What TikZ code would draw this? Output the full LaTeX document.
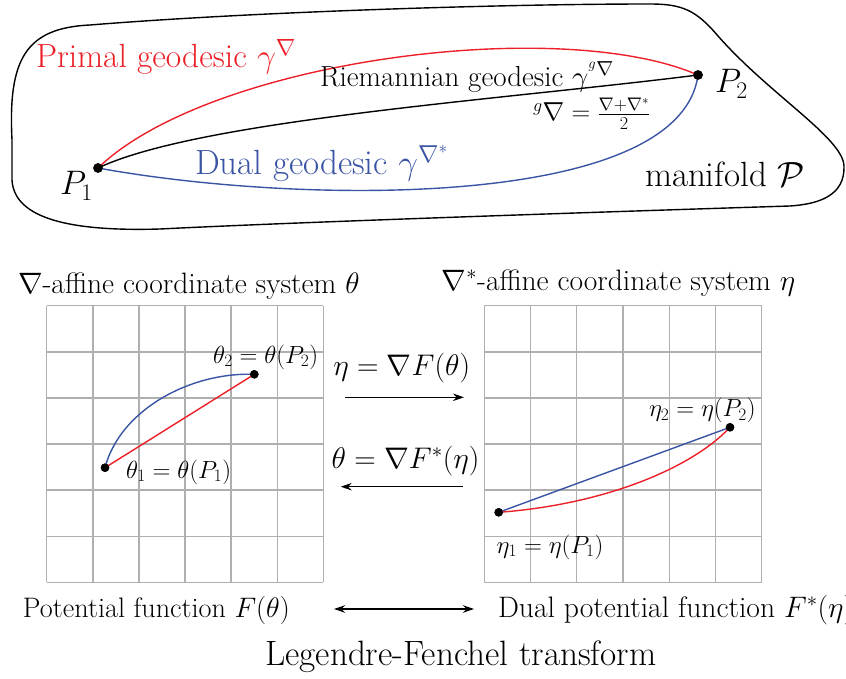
\RequirePackage{fix-cm}
\documentclass[tikz,border=0pt]{standalone}
\usepackage{fontspec}
\usepackage{graphicx}
\usetikzlibrary{arrows.meta}
\definecolor{myred}{RGB}{236,32,40}
\definecolor{myblue}{RGB}{58,84,164}
\definecolor{gridgray}{RGB}{175,175,175}
\newcommand{\fsz}[1]{\fontsize{#1}{#1}\selectfont}
\tikzset{
  lbl/.style={anchor=base west, inner sep=0pt, outer sep=0pt},
  curve/.style={line width=1.4pt},
  gridline/.style={gridgray, line width=1.4pt},
  arr/.style={line width=1.4pt, -{Stealth[length=11pt,width=7.5pt]}},
  darr/.style={line width=1.4pt, {Stealth[length=11pt,width=7.5pt]}-{Stealth[length=11pt,width=7.5pt]}},
  bigdot/.style={circle, fill=black, inner sep=0pt, minimum size=9.5pt},
  smalldot/.style={circle, fill=black, inner sep=0pt, minimum size=8.5pt}
}
\begin{document}
\begin{tikzpicture}[x=1pt,y=-1pt]
\useasboundingbox (0,0) rectangle (846,679);
% manifold outline
\draw[line width=1.4pt] (12,140) .. controls (8,60) and (25,28) .. (90,25)
  .. controls (250,12) and (500,4) .. (650,4)
  .. controls (682,4) and (696,10) .. (718,36)
  .. controls (770,95) and (843,138) .. (844,166)
  .. controls (845,195) and (820,204) .. (790,206)
  .. controls (600,212) and (300,222) .. (160,229)
  .. controls (60,232) and (14,215) .. (12,180) -- cycle;
% points
\node[bigdot] (p1) at (98,168) {};
\node[bigdot] (p2) at (698,75) {};
\draw[curve, myred] (p1.center) .. controls (210,60) and (560,15) .. (p2.center);
\draw[curve, black] (p1.center) .. controls (200,120) and (500,100) .. (p2.center);
\draw[curve, myblue] (p1.center) .. controls (300,205) and (680,210) .. (p2.center);
\node[bigdot] at (p1) {};
\node[bigdot] at (p2) {};
% labels top
\node[lbl, myred] (lprimal) at (36,68) {\fsz{33.5}Primal geodesic $\gamma^{\nabla}$};
\node[lbl] (lriem) at (320,86.5) {\fsz{29}Riemannian geodesic $\gamma^{{}^{g}\nabla}$};
\node[lbl] (lform) at (533,121) {\fsz{26}${}^{g}\nabla=\frac{\nabla+\nabla^*}{2}$};
\node[lbl, myblue] (ldual) at (195,175) {\fsz{35}Dual geodesic $\gamma^{\nabla^*}$};
\node[lbl] (lp1) at (60,195) {\fsz{34}$P_1$};
\node[lbl] (lp2) at (715,93) {\fsz{34}$P_2$};
\node[lbl] (lman) at (645,187) {\fsz{35}manifold $\mathcal{P}$};
% coordinate titles
\node[lbl] (tleft) at (18,293) {\fsz{29.5}$\nabla$-affine coordinate system $\theta$};
\node[lbl] (tright) at (441.7,290) {\fsz{29.5}$\nabla^*$-affine coordinate system $\eta$};
% grids
\foreach \i in {0,...,6} {
  \draw[gridline] ({46.7+\i*46.1},305.7) -- ({46.7+\i*46.1},582.3);
  \draw[gridline] (46.7,{305.7+\i*46.1}) -- (323.3,{305.7+\i*46.1});
  \draw[gridline] ({484.3+\i*46.23},305.7) -- ({484.3+\i*46.23},582.3);
  \draw[gridline] (484.3,{305.7+\i*46.1}) -- (761.7,{305.7+\i*46.1});
}
% left grid points
\node[smalldot] (t1) at (105,467.7) {};
\node[smalldot] (t2) at (254.3,374.3) {};
\draw[curve, myred] (t1.center) -- (t2.center);
\draw[curve, myblue] (t1.center) .. controls (120,410) and (190,372) .. (t2.center);
\node[smalldot] at (t1) {};
\node[smalldot] at (t2) {};
\node[lbl] (lt2) at (213,363) {\fsz{24.8}$\theta_2=\theta(P_2)$};
\node[lbl] (lt1) at (126,478) {\fsz{24.8}$\theta_1=\theta(P_1)$};
% right grid points
\node[smalldot] (e1) at (498.7,512.3) {};
\node[smalldot] (e2) at (730,427.3) {};
\draw[curve, myblue] (e1.center) -- (e2.center);
\draw[curve, myred] (e1.center) .. controls (600,505) and (690,470) .. (e2.center);
\node[smalldot] at (e1) {};
\node[smalldot] at (e2) {};
\node[lbl] (le2) at (649,416.7) {\fsz{24.8}$\eta_2=\eta(P_2)$};
\node[lbl] (le1) at (496.7,553) {\fsz{24.8}$\eta_1=\eta(P_1)$};
% middle arrows
\coordinate (a1s) at (345,397.3);
\coordinate (a1e) at (464,397.3);
\coordinate (a2s) at (463,486.7);
\coordinate (a2e) at (340.7,486.7);
\draw[arr] (a1s) -- (a1e);
\draw[arr] (a2s) -- (a2e);
\node[lbl] (la1) at (333.3,375) {\fsz{29.8}$\eta=\nabla F(\theta)$};
\node[lbl] (la2) at (331.7,468) {\fsz{29.8}$\theta=\nabla F^*(\eta)$};
% bottom
\node[lbl] (pot) at (23,617) {\fsz{28.2}Potential function $F(\theta)$};
\node[lbl] (dpot) at (498,617) {\fsz{29.6}Dual potential function $F^*(\eta)$};
\coordinate (d1) at (334,609);
\coordinate (d2) at (474,609);
\draw[darr] (d1) -- (d2);
\node[lbl] (leg) at (265,665) {\fsz{35.2}Legendre-Fenchel transform};
\end{tikzpicture}
\end{document}
